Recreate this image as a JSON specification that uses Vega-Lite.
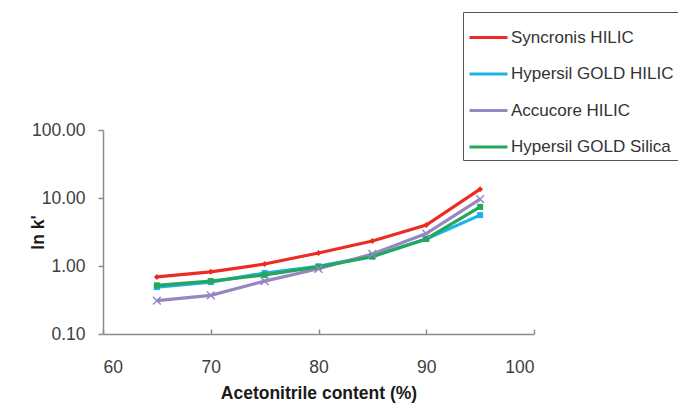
{
  "$schema": "https://vega.github.io/schema/vega-lite/v6.json",
  "width": 431,
  "height": 204,
  "autosize": {"type": "none"},
  "padding": {"left": 103, "top": 130, "right": 144, "bottom": 78},
  "background": "white",
  "config": {
    "font": "Liberation Sans",
    "view": {"stroke": null},
    "axis": {"grid": false, "domainColor": "#8c8c8c", "tickColor": "#8c8c8c", "labelFont": "Liberation Sans", "labelFontSize": 17.5, "labelColor": "#404040", "titleFont": "Liberation Sans", "titleFontSize": 17.5, "titleFontWeight": "bold", "titleColor": "#1a1a1a", "domainWidth": 1.5, "tickWidth": 1.5}
  },
  "data": {"values": [
    {"x": 65, "series": "Syncronis HILIC", "y": 0.69},
    {"x": 70, "series": "Syncronis HILIC", "y": 0.82},
    {"x": 75, "series": "Syncronis HILIC", "y": 1.07},
    {"x": 80, "series": "Syncronis HILIC", "y": 1.55},
    {"x": 85, "series": "Syncronis HILIC", "y": 2.33},
    {"x": 90, "series": "Syncronis HILIC", "y": 4.0},
    {"x": 95, "series": "Syncronis HILIC", "y": 13.5},
    {"x": 65, "series": "Hypersil GOLD HILIC", "y": 0.49},
    {"x": 70, "series": "Hypersil GOLD HILIC", "y": 0.58},
    {"x": 75, "series": "Hypersil GOLD HILIC", "y": 0.79},
    {"x": 80, "series": "Hypersil GOLD HILIC", "y": 0.99},
    {"x": 85, "series": "Hypersil GOLD HILIC", "y": 1.4},
    {"x": 90, "series": "Hypersil GOLD HILIC", "y": 2.5},
    {"x": 95, "series": "Hypersil GOLD HILIC", "y": 5.6},
    {"x": 65, "series": "Accucore HILIC", "y": 0.31},
    {"x": 70, "series": "Accucore HILIC", "y": 0.37},
    {"x": 75, "series": "Accucore HILIC", "y": 0.6},
    {"x": 80, "series": "Accucore HILIC", "y": 0.91},
    {"x": 85, "series": "Accucore HILIC", "y": 1.5},
    {"x": 90, "series": "Accucore HILIC", "y": 3.0},
    {"x": 95, "series": "Accucore HILIC", "y": 9.6},
    {"x": 65, "series": "Hypersil GOLD Silica", "y": 0.52},
    {"x": 70, "series": "Hypersil GOLD Silica", "y": 0.6},
    {"x": 75, "series": "Hypersil GOLD Silica", "y": 0.74},
    {"x": 80, "series": "Hypersil GOLD Silica", "y": 0.97},
    {"x": 85, "series": "Hypersil GOLD Silica", "y": 1.37},
    {"x": 90, "series": "Hypersil GOLD Silica", "y": 2.5},
    {"x": 95, "series": "Hypersil GOLD Silica", "y": 7.4}
  ]},
  "encoding": {
    "x": {"field": "x", "type": "quantitative", "scale": {"domain": [60, 100], "nice": false, "zero": false},
      "axis": {"values": [60, 70, 80, 90, 100], "tickSize": -5, "labelPadding": 29, "title": "Acetonitrile content (%)", "titlePadding": 9}},
    "y": {"field": "y", "type": "quantitative", "scale": {"type": "log", "domain": [0.1, 100], "nice": false},
      "axis": {"values": [0.1, 1, 10, 100], "format": ".2f", "tickSize": 5, "labelPadding": 13, "title": "ln k'", "titlePadding": -16}},
    "color": {"field": "series", "type": "nominal",
      "scale": {"domain": ["Syncronis HILIC", "Hypersil GOLD HILIC", "Accucore HILIC", "Hypersil GOLD Silica"], "range": ["#ee2a24", "#1db2e8", "#9786c2", "#24a65c"]},
      "legend": {"title": null, "orient": "none", "legendX": 360, "legendY": -118, "symbolType": "stroke", "symbolSize": 1444, "symbolStrokeWidth": 3, "labelFontSize": 17, "labelColor": "#333333", "labelFont": "Liberation Sans", "labelLimit": 0, "strokeColor": "#555555", "padding": 5, "rowPadding": 7.5, "labelOffset": 2, "fillColor": "white"}}
  },
  "layer": [
    {"mark": {"type": "line", "strokeWidth": 3.2}},
    {"transform": [{"filter": "datum.series !== 'Accucore HILIC'"}],
     "mark": {"type": "point", "filled": true, "opacity": 1, "size": 36},
     "encoding": {"shape": {"field": "series", "type": "nominal", "legend": null,
       "scale": {"domain": ["Syncronis HILIC", "Hypersil GOLD HILIC", "Hypersil GOLD Silica"], "range": ["diamond", "square", "square"]}}}},
    {"transform": [{"filter": "datum.series === 'Accucore HILIC'"}],
     "mark": {"type": "point", "filled": false, "opacity": 1, "size": 60, "strokeWidth": 1.5, "shape": "M-1,-1L1,1M-1,1L1,-1"}}
  ]
}
